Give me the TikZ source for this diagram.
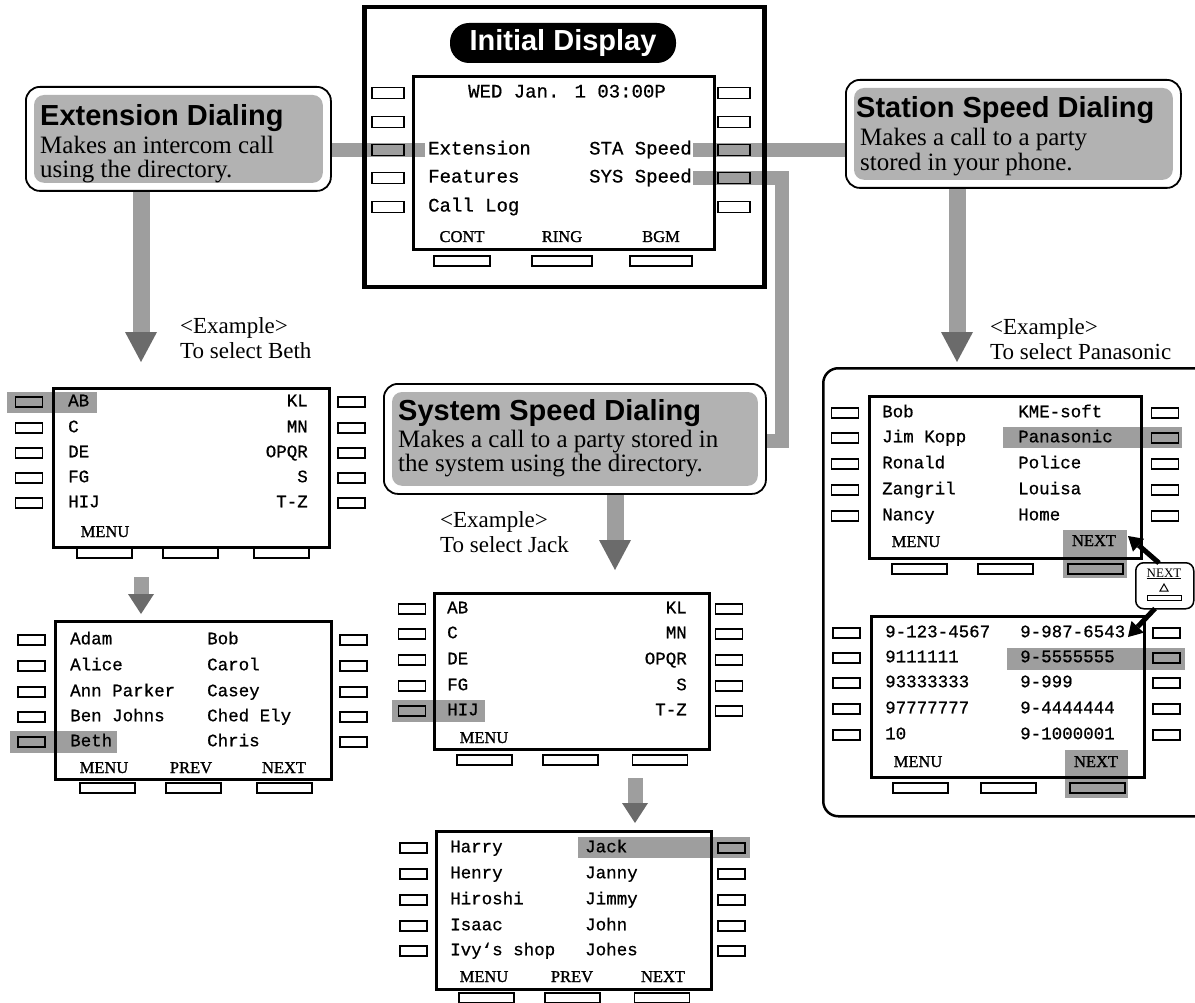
\documentclass[tikz,border=0pt]{standalone}
\usepackage{fontspec}
\setmainfont{Liberation Serif}
\newfontfamily\hfont{Liberation Sans}
\newfontfamily\mfont[FakeBold=0.7]{Liberation Mono}
\newfontfamily\lfont[FakeBold=1.2]{Liberation Serif}
\usetikzlibrary{arrows.meta,calc}
\pgfdeclarelayer{bg}
\pgfsetlayers{bg,main}
\colorlet{bandc}{black!38}
\colorlet{calloutc}{black!30}
\colorlet{headc}{black!58}
\tikzset{
  keyb/.style={draw, line width=1.2pt, minimum width=32pt, minimum height=11pt, inner sep=0pt},
  keys/.style={draw, line width=1.2pt, minimum width=27pt, minimum height=10pt, inner sep=0pt},
  keyw/.style={draw, line width=1.2pt, minimum width=55pt, minimum height=10pt, inner sep=0pt},
  scr/.style={draw, line width=2.6pt, inner sep=0pt, anchor=north west},
  monoA/.style={font=\mfont\fontsize{19}{19}\selectfont, inner sep=0pt, text height=13pt, text depth=4pt},
  monoB/.style={font=\mfont\fontsize{17.5}{18}\selectfont, inner sep=0pt, text height=12pt, text depth=3.5pt},
  lbl/.style={font=\lfont\fontsize{16.5}{16.5}\selectfont, inner sep=0pt, text height=11pt, text depth=1pt},
  head/.style={font=\hfont\bfseries\fontsize{29}{29}\selectfont, inner sep=0pt, anchor=west, text height=21pt, text depth=6pt},
  body/.style={font=\fontsize{25}{25}\selectfont, inner sep=0pt, anchor=west, text height=17pt, text depth=5pt},
  exa/.style={font=\fontsize{23}{23}\selectfont, inner sep=0pt, anchor=west, text height=16pt, text depth=5pt},
  callout/.style={draw, line width=1.8pt, rounded corners=14pt, fill=white, anchor=north west, inner sep=0pt},
  band/.style={draw=bandc, line width=14pt},
  hl/.style={fill=bandc},
  garrow/.style={draw=bandc, line width=17pt, -{Triangle[length=30pt,width=32pt,line width=0pt,color=headc]}},
  sarrow/.style={draw=bandc, line width=15pt, -{Triangle[length=20pt,width=26pt,line width=0pt,color=headc]}},
  barrow/.style={draw=black, line width=5pt, -{Triangle[length=14pt,width=17pt,line width=0pt]}},
}
\newcommand\sidekeys[5]{%
  \foreach \yy [count=\i] in {#4} {
    \node[#5] (#1l\i) at (#2,\yy) {};
    \node[#5] (#1r\i) at (#3,\yy) {};
  }}
\newcommand\botkeys[5]{%
  \node[keyw] (#1b1) at (#3,#2) {};
  \node[keyw] (#1b2) at (#4,#2) {};
  \node[keyw] (#1b3) at (#5,#2) {};}
\begin{document}
\begin{tikzpicture}[x=1pt,y=-1pt]
\useasboundingbox (0,0) rectangle (1195,1003);

% ---------- Initial display ----------
\node[draw, line width=4.5pt, minimum width=400pt, minimum height=280pt, anchor=north west, inner sep=0pt] (init) at (362,5) {};
\node[fill=black, rounded corners=19pt, minimum width=226pt, minimum height=40pt, text=white, inner sep=0pt,
      font=\hfont\bfseries\fontsize{29}{29}\selectfont] (title) at (563,43) {Initial Display};
\node[scr, minimum width=301pt, minimum height=173pt] (s0) at (412,75) {};
\sidekeys{k0}{388}{734}{93,122,150,178,207}{keyb}
\node[keyw, minimum width=56pt] (k0b1) at (462,261) {};
\node[keyw, minimum width=60pt] (k0b2) at (562,261) {};
\node[keyw, minimum width=62pt] (k0b3) at (661,261) {};
\node[monoA] (t0a) at (567,93) {WED Jan. 1 03:00P};
\node[monoA, anchor=west] (t0b) at (428,150) {Extension};
\node[monoA, anchor=west] (t0c) at (428,178) {Features};
\node[monoA, anchor=west] (t0d) at (428,207) {Call Log};
\node[monoA, anchor=east] (t0e) at (692,150) {STA Speed};
\node[monoA, anchor=east] (t0f) at (692,178) {SYS Speed};
\node[lbl] (t0g) at (462,237) {CONT};
\node[lbl] (t0h) at (562,237) {RING};
\node[lbl] (t0i) at (661,237) {BGM};

% ---------- Callouts ----------
\node[callout, minimum width=305pt, minimum height=104pt] (ext) at (25,86) {};
\fill[calloutc, rounded corners=10pt] ($(ext.north west)+(9,9)$) rectangle ($(ext.south east)+(-9,-9)$);
\node[head] (exth) at (40,118) {Extension Dialing};
\node[body] (ext1) at (40,148) {Makes an intercom call};
\node[body] (ext2) at (40,172) {using the directory.};

\node[callout, minimum width=335pt, minimum height=108pt] (sta) at (845,79) {};
\fill[calloutc, rounded corners=10pt] ($(sta.north west)+(9,9)$) rectangle ($(sta.south east)+(-9,-9)$);
\node[head] (stah) at (856,110) {Station Speed Dialing};
\node[body] (sta1) at (860,140) {Makes a call to a party};
\node[body] (sta2) at (860,165) {stored in your phone.};

\node[callout, minimum width=382pt, minimum height=110pt] (sys) at (383,383) {};
\fill[calloutc, rounded corners=10pt] ($(sys.north west)+(9,9)$) rectangle ($(sys.south east)+(-9,-9)$);
\node[head] (sysh) at (398,413) {System Speed Dialing};
\node[body] (sys1) at (398,441) {Makes a call to a party stored in};
\node[body] (sys2) at (398,465) {the system using the directory.};

% ---------- Example labels ----------
\node[exa] (exA1) at (180,328) {<Example>};
\node[exa] (exA2) at (180,353) {To select Beth};
\node[exa] (exC1) at (440,522) {<Example>};
\node[exa] (exC2) at (440,547) {To select Jack};
\node[exa] (exE1) at (990,329) {<Example>};
\node[exa] (exE2) at (990,354) {To select Panasonic};

% ---------- Screen A (left top) ----------
\node[scr, minimum width=276pt, minimum height=159pt] (sA) at (52,387) {};
\sidekeys{kA}{29}{351.5}{402,428,453,478,503}{keys}
\botkeys{kA}{553}{104.5}{190.5}{281.5}
\foreach \yy/\a/\b [count=\i] in {402/AB/KL,428/C/MN,453/DE/OPQR,478/FG/S,503/HIJ/T-Z}{
  \node[monoB, anchor=west] (tA\i) at (68,\yy) {\a};
  \node[monoB, anchor=east] (uA\i) at (308,\yy) {\b};}
\node[lbl] (mA) at (105,532) {MENU};

% ---------- Screen B (left bottom) ----------
\node[scr, minimum width=276pt, minimum height=158pt] (sB) at (54,620) {};
\sidekeys{kB}{31.5}{353.5}{640,666,692,717,742}{keys}
\botkeys{kB}{788}{107.5}{193.5}{284.5}
\foreach \yy/\a/\b [count=\i] in {640/Adam/Bob,666/Alice/Carol,692/Ann Parker/Casey,717/Ben Johns/Ched Ely,742/Beth/Chris}{
  \node[monoB, anchor=west] (tB\i) at (70,\yy) {\a};
  \node[monoB, anchor=west] (uB\i) at (207,\yy) {\b};}
\node[lbl] (mB1) at (104,768) {MENU};
\node[lbl] (mB2) at (191,768) {PREV};
\node[lbl] (mB3) at (284,768) {NEXT};

% ---------- Screen C (middle top) ----------
\node[scr, minimum width=275pt, minimum height=156pt] (sC) at (433,592) {};
\sidekeys{kC}{412}{729}{609,634,660,686,711}{keys}
\botkeys{kC}{760}{484.5}{570.5}{660}
\foreach \yy/\a/\b [count=\i] in {609/AB/KL,634/C/MN,660/DE/OPQR,686/FG/S,711/HIJ/T-Z}{
  \node[monoB, anchor=west] (tC\i) at (447,\yy) {\a};
  \node[monoB, anchor=east] (uC\i) at (687,\yy) {\b};}
\node[lbl] (mC) at (484,738) {MENU};

% ---------- Screen D (middle bottom) ----------
\node[scr, minimum width=275pt, minimum height=158pt] (sD) at (435,830) {};
\sidekeys{kD}{413.5}{731.5}{848,874,900,926,951}{keys}
\botkeys{kD}{998}{486.5}{572.5}{662}
\foreach \yy/\a/\b [count=\i] in {848/Harry/Jack,874/Henry/Janny,900/Hiroshi/Jimmy,926/Isaac/John,951/Ivy‘s shop/Johes}{
  \node[monoB, anchor=west] (tD\i) at (450,\yy) {\a};
  \node[monoB, anchor=west] (uD\i) at (585,\yy) {\b};}
\node[lbl] (mD1) at (484,977) {MENU};
\node[lbl] (mD2) at (572,977) {PREV};
\node[lbl] (mD3) at (663,977) {NEXT};

% ---------- Right frame ----------
\node[draw, line width=2.5pt, rounded corners=15pt, minimum width=390pt, minimum height=448pt, anchor=north west, inner sep=0pt] (frame) at (822,367) {};

% ---------- Screen E ----------
\node[scr, minimum width=272pt, minimum height=162pt] (sE) at (868,395) {};
\sidekeys{kE}{845}{1165}{413,438,464,490,516}{keys}
\botkeys{kE}{569}{919.5}{1005.5}{1095.5}
\foreach \yy/\a/\b [count=\i] in {413/Bob/KME-soft,438/Jim Kopp/Panasonic,464/Ronald/Police,490/Zangril/Louisa,516/Nancy/Home}{
  \node[monoB, anchor=west] (tE\i) at (882,\yy) {\a};
  \node[monoB, anchor=west] (uE\i) at (1018,\yy) {\b};}
\node[lbl] (mE1) at (916,542) {MENU};
\node[lbl] (mE2) at (1094,541) {NEXT};

% ---------- Screen F ----------
\node[scr, minimum width=273pt, minimum height=161pt] (sF) at (870,615) {};
\sidekeys{kF}{846.5}{1166.5}{633,658,683,709,735}{keys}
\botkeys{kF}{788}{920.5}{1008.5}{1097.5}
\foreach \yy/\a/\b [count=\i] in {633/9-123-4567/9-987-6543,658/9111111/9-5555555,683/93333333/9-999,709/97777777/9-4444444,735/10/9-1000001}{
  \node[monoB, anchor=west] (tF\i) at (885,\yy) {\a};
  \node[monoB, anchor=west] (uF\i) at (1020,\yy) {\b};}
\node[lbl] (mF1) at (918,762) {MENU};
\node[lbl] (mF2) at (1096,762) {NEXT};

% ---------- NEXT key icon ----------
\node[draw, line width=1.5pt, rounded corners=8pt, minimum width=58pt, minimum height=46pt, anchor=north west, inner sep=0pt, fill=white] (nicon) at (1135,562) {};
\node[font=\fontsize{13}{13}\selectfont, inner sep=0pt] (ntxt) at (1164,574) {\underline{NEXT}};
\draw[line width=1pt] (1160,591) -- (1168,591) -- (1164,584) -- cycle;
\node[draw, line width=1pt, minimum width=34pt, minimum height=5pt, inner sep=0pt] (nkey) at (1164,598) {};
\coordinate (tipA) at (1128,536);
\coordinate (tipB) at (1128,637);
\draw[barrow] ($(nicon.north west)+(24,1)$) -- (tipA);
\draw[barrow] ($(nicon.south west)+(20,-1)$) -- (tipB);

% ---------- gray arrows ----------
\coordinate (a1e) at (141,362);
\draw[garrow] (ext.south -| a1e) -- (a1e);
\coordinate (a2s) at (141,577);
\coordinate (a2e) at (141,614);
\draw[sarrow] (a2s) -- (a2e);
\coordinate (a3e) at (957,362);
\draw[garrow] (sta.south -| a3e) -- (a3e);
\coordinate (a4e) at (615,570);
\draw[garrow] (sys.south -| a4e) -- (a4e);
\coordinate (a5s) at (635,778);
\coordinate (a5e) at (635,823);
\draw[sarrow] (a5s) -- (a5e);

% ---------- bands and highlights (background) ----------
\begin{pgfonlayer}{bg}
\fill[white] (0,0) rectangle (1195,1003);
\draw[band] (ext.east |- k0l3) -- ($(k0l3.east)+(20,0)$);
\draw[band] ($(k0r3.west)+(-24,0)$) -- (sta.west |- k0r3);
\coordinate (sysbend) at (782,441);
\draw[band] ($(k0r4.west)+(-24,0)$) -| (sysbend) -- (sys.east |- sysbend);
\fill[hl] (7,392) rectangle (97,413);
\fill[hl] (10,731) rectangle (117,753);
\fill[hl] (392,700) rectangle (485,722);
\fill[hl] (578,837) rectangle (750,858);
\fill[hl] (1003,427) rectangle (1182,448);
\fill[hl] (1007,648) rectangle (1185,670);
\fill[hl] (1063,530) rectangle (1127,578);
\fill[hl] (1065,750) rectangle (1128,798);
\end{pgfonlayer}
\end{tikzpicture}
\end{document}
